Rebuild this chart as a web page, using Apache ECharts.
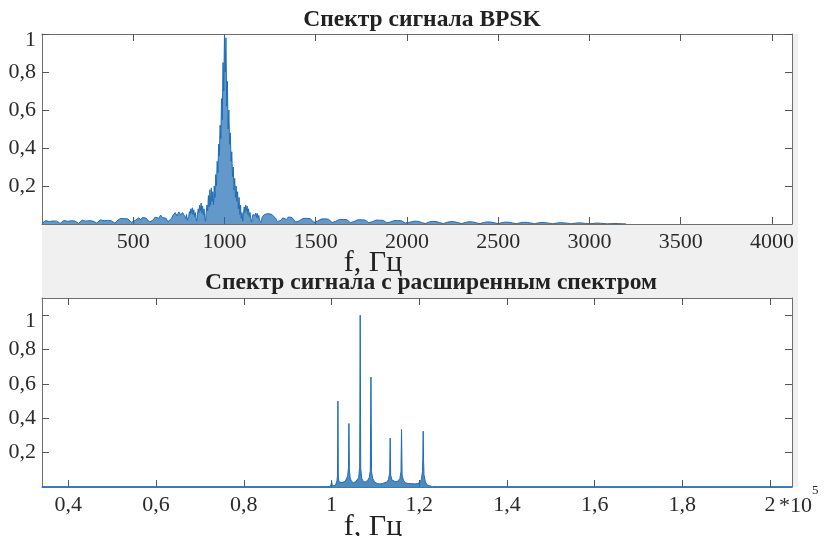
<!DOCTYPE html>
<html><head><meta charset="utf-8">
<script src="https://cdn.jsdelivr.net/npm/echarts@6/dist/echarts.min.js"></script>
<style>html,body{margin:0;padding:0;background:#fff}#c{width:825px;height:536px}</style>
</head><body><div id="c"></div>
<script>
// ---------- texts ----------
const topTitle = 'Спектр сигнала BPSK';
const bottomTitle = 'Спектр сигнала с расширенным спектром';
const xAxisName = 'f, Гц';
const bottomScale = '*10';
const bottomScaleExp = '5';

// ---------- ticks ----------
const topXTicks = [500, 1000, 1500, 2000, 2500, 3000, 3500, 4000];
const bottomXTicks = [0.4, 0.6, 0.8, 1, 1.2, 1.4, 1.6, 1.8, 2];
const yTicks = [0.2, 0.4, 0.6, 0.8, 1];
const topXRange = [0, 4110];
const bottomXRange = [0.34, 2.05];
const topYRange = [0, 1];
const bottomYRange = [0, 1.1];

// ---------- top spectrum (BPSK), Hz -> amplitude ----------
const segAStart = 0, segAStep = 10;
const segAValues = [
 0.004,0.012,0.018,0.021,0.013,0.022,0.016,0.021,0.015,0.009,
 0.003,0.013,0.019,0.022,0.014,0.023,0.017,0.021,0.016,0.008,
 0.004,0.014,0.020,0.024,0.015,0.023,0.018,0.022,0.015,0.009,
 0.005,0.015,0.022,0.026,0.017,0.025,0.019,0.024,0.017,0.008,
 0.004,0.016,0.024,0.029,0.019,0.028,0.021,0.027,0.019,0.009,
 0.005,0.018,0.028,0.033,0.022,0.034,0.025,0.031,0.022,0.010,
 0.006,0.022,0.036,0.044,0.030,0.047,0.034,0.043,0.030,0.012,
 0.007,0.030,0.048,0.060,0.042,0.064,0.047,0.060,0.045];
const segBStart = 784, segBStep = 4;
const segBValues = [
 0.045,0.03,0.05,0.02,
 0.01,0.04,0.065,0.05,0.08,0.06,0.085,0.05,0.075,0.04,0.06,0.03,0.015,0.05,0.08,0.06,
 0.1,0.07,0.11,0.06,0.095,0.05,0.08,0.03,0.015,
 0.06,0.1,0.07,0.15,0.09,0.18,0.1,0.19,0.12,0.17,0.1,0.2,0.14,0.26,0.2,0.33,0.27,0.42,0.36,0.52,0.45,0.66,0.55,0.85,0.7,
 1.0,0.8,0.98,0.62,0.75,0.5,0.6,0.42,0.48,0.33,0.38,0.25,0.3,0.18,0.24,0.14,0.2,0.12,0.17,0.08,0.14,0.05,0.1,0.03,0.06,
 0.015,0.05,0.09,0.06,0.1,0.07,0.095,0.05,0.08,0.04,0.06,0.025,0.01,0.03,0.05,0.04,0.06,0.045,0.058,0.035,0.055,0.03,0.045,0.02,0.01,
 0.008,0.025,0.04,0.03,0.045];
const segCStart = 1220, segCStep = 10;
const segCValues = [
 0.05,0.042,0.055,0.048,0.05,0.04,0.03,0.012,
 0.004,0.02,0.032,0.036,0.024,0.037,0.027,0.034,0.024,0.01,
 0.004,0.017,0.026,0.029,0.019,0.03,0.022,0.028,0.02,0.009,
 0.003,0.015,0.023,0.026,0.017,0.027,0.02,0.025,0.018,0.008,
 0.003,0.014,0.021,0.024,0.015,0.024,0.018,0.023,0.016,0.007,
 0.003,0.013,0.019,0.022,0.014,0.022,0.016,0.021,0.015,0.007,
 0.002,0.012,0.017,0.02,0.013,0.02,0.015,0.019,0.013,0.006,
 0.002,0.011,0.016,0.018,0.012,0.018,0.013,0.017,0.012,0.005,
 0.002];
const segDStart = 2020, segDStep = 20;
const segDValues = [
 0.01,0.015,0.014,0.008,0.002,
 0.01,0.014,0.013,0.007,0.002,
 0.009,0.013,0.012,0.007,0.002,
 0.008,0.012,0.011,0.006,0.002,
 0.008,0.011,0.01,0.006,0.002,
 0.007,0.01,0.009,0.005,0.002,
 0.006,0.009,0.008,0.005,0.001,
 0.006,0.008,0.007,0.004,0.001,
 0.005,0.007,0.006,0.004,0.001,
 0.004,0.006,0.005,0.003,0.001,
 0.003,0.005,0.004,0.002,0.001,
 0.002,0.003,0.002,0.001,0.001];

// ---------- bottom spectrum (spread spectrum), x in 1e5 Hz ----------
const bottomFreq = [
 0.34, 0.99, 0.998, 1.0005, 1.002, 1.006, 1.009, 1.011, 1.0125, 1.0138, 1.0147, 1.0156, 1.017,
 1.020, 1.024, 1.028, 1.032, 1.035, 1.037, 1.0388, 1.0398, 1.0408, 1.0425, 1.045,
 1.050, 1.055, 1.059, 1.062, 1.0643, 1.0655, 1.0667, 1.069, 1.073,
 1.078, 1.083, 1.086, 1.0885, 1.0900, 1.0913, 1.094, 1.098,
 1.104, 1.110, 1.116, 1.122, 1.127, 1.130, 1.1327, 1.1339, 1.1350, 1.138, 1.142,
 1.147, 1.152, 1.156, 1.1585, 1.1597, 1.1610, 1.164, 1.168,
 1.175, 1.183, 1.190, 1.197, 1.202, 1.205, 1.2075, 1.2083, 1.2091, 1.2099, 1.211, 1.214, 1.218, 1.222,
 1.23, 2.05];
const bottomAmp = [
 0.002, 0.002, 0.005, 0.03, 0.006, 0.004, 0.01, 0.02, 0.035, 0.07, 0.5, 0.06, 0.03,
 0.02, 0.025, 0.03, 0.035, 0.045, 0.065, 0.115, 0.37, 0.1, 0.055, 0.035,
 0.025, 0.03, 0.04, 0.055, 0.115, 1.0, 0.11, 0.05, 0.03,
 0.03, 0.04, 0.055, 0.095, 0.64, 0.09, 0.05, 0.03,
 0.02, 0.018, 0.02, 0.025, 0.03, 0.045, 0.08, 0.285, 0.07, 0.04, 0.03,
 0.03, 0.035, 0.05, 0.09, 0.335, 0.07, 0.04, 0.025,
 0.02, 0.02, 0.018, 0.02, 0.03, 0.045, 0.09, 0.17, 0.325, 0.16, 0.07, 0.03, 0.012, 0.004,
 0.002, 0.002];

// ---------- build ----------
function seg(start, step, vals) { return vals.map((v, i) => [start + i * step, v]); }
const topData = [].concat(
  seg(segAStart, segAStep, segAValues),
  seg(segBStart, segBStep, segBValues),
  seg(segCStart, segCStep, segCValues),
  seg(segDStart, segDStep, segDValues));
const bottomData = bottomFreq.map((f, i) => [f, bottomAmp[i]]);

const FONT = 'Liberation Serif';
const BLUE = '#1f6db3';
const LINE = '#6e6e6e';
const commaFmt = v => String(+v.toFixed(3)).replace('.', ',');
const yFmt = v => (v === 1 ? '{one|1}' : commaFmt(v));
const labelBase = {fontFamily: FONT, fontSize: 22, color: '#2a2a2a'};

function xAx(grid, range, ticks, pos, labels) {
  return {
    type: 'value', gridIndex: grid, min: range[0], max: range[1], position: pos,
    axisLine: {show: true, onZero: false, lineStyle: {color: LINE, width: 1}},
    axisTick: {show: true, inside: true, length: 7, customValues: ticks, lineStyle: {color: '#555'}},
    axisLabel: Object.assign({show: labels, margin: 7, customValues: ticks, formatter: commaFmt}, labelBase),
    splitLine: {show: false}
  };
}
function yAx(grid, range, pos, labels) {
  return {
    type: 'value', gridIndex: grid, min: range[0], max: range[1], position: pos,
    axisLine: {show: true, onZero: false, lineStyle: {color: LINE, width: 1}},
    axisTick: {show: true, inside: true, length: 7, customValues: yTicks, lineStyle: {color: '#555'}},
    axisLabel: Object.assign({show: labels, margin: 6, customValues: yTicks, formatter: yFmt,
      rich: {one: {fontFamily: FONT, fontSize: 22, color: '#2a2a2a', padding: [12, 0, 0, 0]}}}, labelBase),
    splitLine: {show: false}
  };
}

const chart = echarts.init(document.getElementById('c'), null, {renderer: 'canvas'});
chart.setOption({
  animation: false,
  backgroundColor: '#ffffff',
  grid: [
    {left: 42, top: 34, width: 750, height: 190, show: true, backgroundColor: '#ffffff', borderWidth: 0},
    {left: 42, top: 298, width: 750, height: 189, show: true, backgroundColor: '#ffffff', borderWidth: 0}
  ],
  xAxis: [
    xAx(0, topXRange, topXTicks, 'bottom', true),
    xAx(0, topXRange, topXTicks, 'top', false),
    xAx(1, bottomXRange, bottomXTicks, 'bottom', true),
    xAx(1, bottomXRange, bottomXTicks, 'top', false)
  ],
  yAxis: [
    yAx(0, topYRange, 'left', true),
    yAx(0, topYRange, 'right', false),
    yAx(1, bottomYRange, 'left', true),
    yAx(1, bottomYRange, 'right', false)
  ],
  series: [
    {type: 'line', xAxisIndex: 0, yAxisIndex: 0, data: topData, showSymbol: false, symbol: 'none',
     lineStyle: {color: BLUE, width: 1}, areaStyle: {color: BLUE, opacity: 0.7}, z: 3},
    {type: 'line', xAxisIndex: 2, yAxisIndex: 2, data: bottomData, showSymbol: false, symbol: 'none',
     lineStyle: {color: BLUE, width: 1}, areaStyle: {color: BLUE, opacity: 0.8}, z: 3}
  ],
  graphic: [
    {type: 'rect', z: -10, silent: true, shape: {x: 42, y: 34, width: 756, height: 264}, style: {fill: '#f0f0f0'}},
    {type: 'rect', z: -10, silent: true, shape: {x: 792, y: 298, width: 6, height: 189}, style: {fill: '#f0f0f0'}},
    {type: 'text', z: 10, x: 422, y: 20, style: {text: topTitle, font: 'bold 23.5px "Liberation Serif"', fill: '#222', textAlign: 'center', textVerticalAlign: 'middle'}},
    {type: 'text', z: 10, x: 373, y: 263, style: {text: xAxisName, font: '30px "Liberation Serif"', fill: '#222', textAlign: 'center', textVerticalAlign: 'middle'}},
    {type: 'text', z: 10, x: 431, y: 283, style: {text: bottomTitle, font: 'bold 23.5px "Liberation Serif"', fill: '#222', textAlign: 'center', textVerticalAlign: 'middle'}},
    {type: 'text', z: 10, x: 373, y: 527, style: {text: xAxisName, font: '30px "Liberation Serif"', fill: '#222', textAlign: 'center', textVerticalAlign: 'middle'}},
    {type: 'text', z: 10, x: 779, y: 506, style: {text: bottomScale, font: '22px "Liberation Serif"', fill: '#2a2a2a', textAlign: 'left', textVerticalAlign: 'middle'}},
    {type: 'text', z: 10, x: 812, y: 491, style: {text: bottomScaleExp, font: '13px "Liberation Serif"', fill: '#2a2a2a', textAlign: 'left', textVerticalAlign: 'middle'}}
  ]
});
</script></body></html>
